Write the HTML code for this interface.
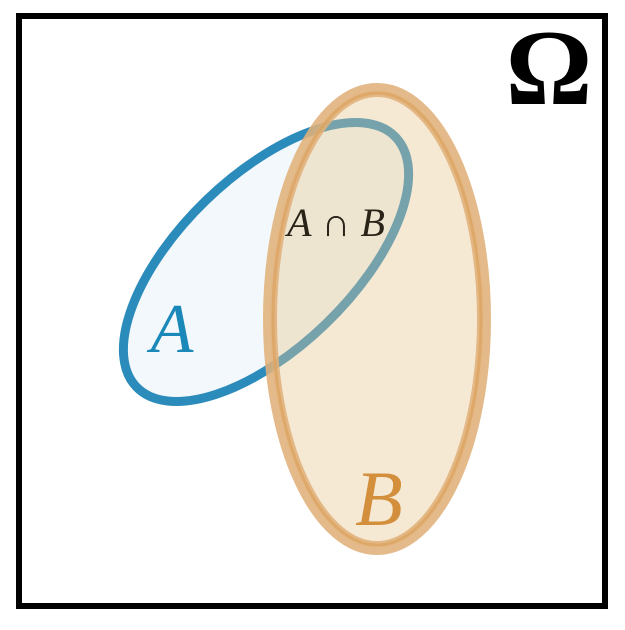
<!DOCTYPE html>
<html><head><style>html,body{margin:0;padding:0;background:#fff;}svg{display:block}</style></head>
<body>
<svg width="625" height="630" viewBox="0 0 625 630" xmlns="http://www.w3.org/2000/svg">
<rect x="0" y="0" width="625" height="630" fill="#fff"/>
<rect x="19" y="16" width="586" height="590" fill="none" stroke="#000" stroke-width="6"/>
<g transform="translate(266,262) rotate(-44)">
<ellipse cx="0" cy="0" rx="180" ry="86" fill="#f2f8fb" stroke="#2b8bbb" stroke-width="9"/>
</g>
<ellipse cx="377" cy="319" rx="107" ry="229" fill="rgb(232,200,147)" fill-opacity="0.4" stroke="#e0b07a" stroke-opacity="0.88" stroke-width="14"/>
<ellipse cx="377" cy="319" rx="104" ry="226" fill="none" stroke="#dca462" stroke-opacity="0.8" stroke-width="3"/>
<text x="172" y="352" font-family="Liberation Serif, serif" font-style="italic" font-size="70" fill="#1a88b8" text-anchor="middle">A</text>
<text x="379" y="525" font-family="Liberation Serif, serif" font-style="italic" font-size="78" fill="#d38f3c" text-anchor="middle">B</text>
<text x="336" y="236" font-family="Liberation Serif, serif" font-size="40" fill="#2a2418" text-anchor="middle"><tspan font-style="italic">A</tspan> ∩ <tspan font-style="italic">B</tspan></text>
<text x="549" y="104" font-family="Liberation Serif, serif" font-size="108" font-weight="bold" fill="#000" text-anchor="middle">Ω</text>
</svg>
</body></html>
